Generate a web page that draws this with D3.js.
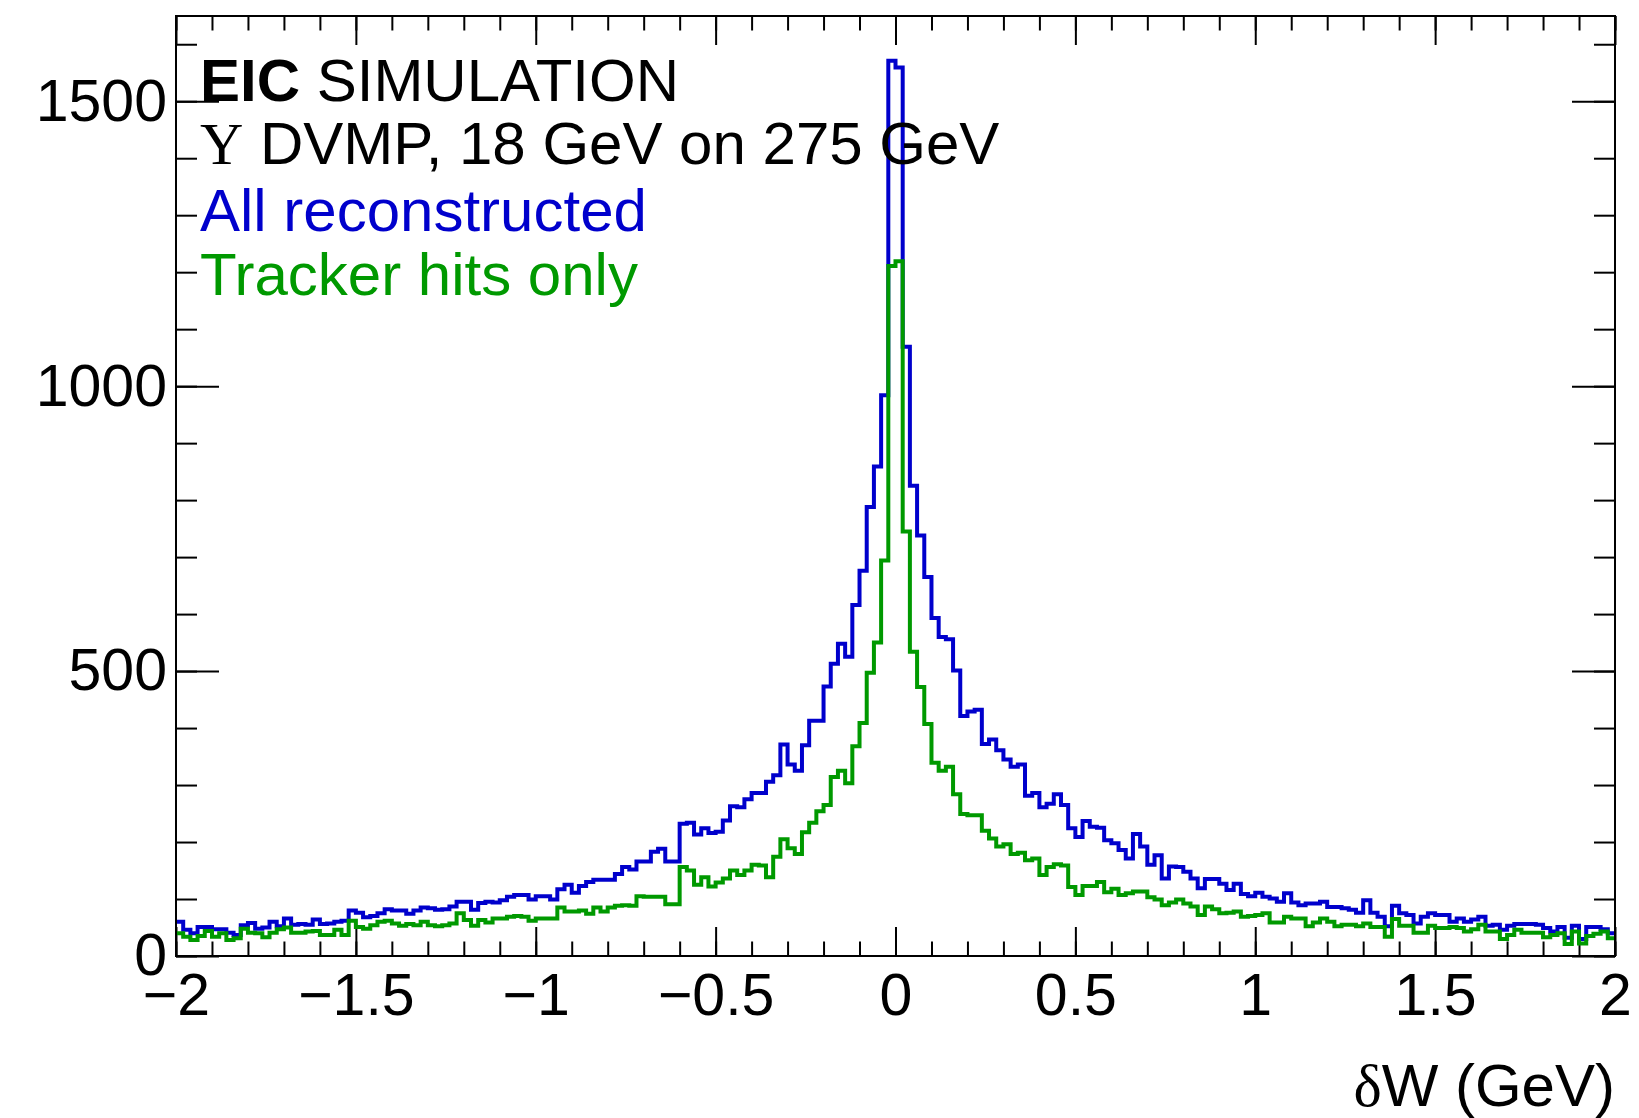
<!DOCTYPE html>
<html>
<head>
<meta charset="utf-8">
<script src="https://cdn.jsdelivr.net/npm/d3@7/dist/d3.min.js"></script>
<style>
body { margin: 0; background: #fff; }
text { font-family: "Liberation Sans", Arial, Helvetica, sans-serif; }
</style>
</head>
<body>
<div id="chart-area"></div>
<script>
/*
*    dW histogram, all reconstructed vs tracker hits only
*/

// binning: 200 bins from -2 to 2 GeV
var xLow = -2
var xHigh = 2
var nBins = 200

// bin contents, left to right
var allReco = [
  60,46,40,51,51,47,47,41,37,54, 58,48,50,60,52,66,55,56,55,64,
  56,57,60,62,80,76,68,70,75,82, 80,80,74,80,85,84,81,82,87,95,
  95,81,93,95,94,98,104,107,107,99, 105,105,99,117,125,111,123,130,134,134,
  134,144,156,152,166,166,183,188,166,166, 232,234,213,224,216,218,238,263,261,275,
  286,286,306,317,371,336,325,370,413,413, 473,513,548,525,616,676,788,859,984,1571,
  1559,1069,825,738,665,593,560,556,501,421, 429,432,372,380,361,345,332,336,281,286,
  261,267,284,265,224,209,237,227,225,203, 198,186,171,214,192,160,177,136,157,156,
  148,136,119,135,135,127,116,127,109,105, 111,104,101,95,110,94,89,92,92,95,
  86,86,84,81,76,98,76,69,52,88, 75,72,57,69,75,72,72,60,66,60,
  64,69,53,55,46,53,56,56,56,55, 49,43,51,32,53,30,51,51,47,40
]

var trackerOnly = [
  40,34,28,35,44,34,40,28,31,48, 41,40,33,41,47,50,41,41,43,44,
  37,37,46,37,62,51,48,54,60,62, 57,53,56,54,60,54,52,54,57,75,
  63,53,63,59,66,66,69,70,69,62, 66,66,66,85,78,78,80,74,85,78,
  85,88,89,88,105,104,104,104,91,91, 156,150,125,138,122,129,136,150,142,150,
  160,159,138,174,205,189,179,217,234,254, 265,314,325,303,368,409,497,550,694,1211,
  1219,745,534,472,407,339,325,332,284,249, 247,247,220,206,192,196,179,181,168,171,
  142,156,161,159,121,107,123,123,130,112, 118,107,110,113,113,103,99,89,94,99,
  92,87,72,87,82,75,76,78,69,70, 72,75,59,59,69,66,66,52,59,66,
  60,52,55,55,52,57,51,51,34,65, 53,53,41,41,53,49,49,51,49,43,
  47,55,43,43,30,37,46,41,41,41, 33,37,40,21,43,22,35,39,43,31
]

var xTickValues = [-2, -1.5, -1, -0.5, 0, 0.5, 1, 1.5, 2]
var xTickLabels = ["\u22122", "\u22121.5", "\u22121", "\u22120.5", "0", "0.5", "1", "1.5", "2"]
var yTickValues = [0, 500, 1000, 1500]
var yTickLabels = ["0", "500", "1000", "1500"]

var textLines = ["SIMULATION", "DVMP, 18 GeV on 275 GeV", "All reconstructed", "Tracker hits only"]

var blue = "#0000cc"
var green = "#009900"

var W = 1639
var H = 1118
var margin = {top: 16, right: 24, bottom: 162, left: 176}
var width = W - margin.left - margin.right
var height = H - margin.top - margin.bottom

var svg = d3.select("#chart-area").append("svg")
.attr("width", W)
.attr("height", H)

var g = svg.append("g")
.attr("transform", "translate(" + margin.left + ", " + margin.top + ")")

var x = d3.scaleLinear()
.domain([xLow, xHigh])
.range([0, width])

var y = d3.scaleLinear()
.domain([0, d3.max(allReco) * 1.05])
.range([height, 0])

var xMinor = d3.range(-20, 21).map(d => d / 10)
var yMinor = d3.range(0, 17).map(d => d * 100)

// ticks point inwards, ROOT style
g.append("g")
.attr("class", "x axis")
.attr("transform", "translate(0, " + height + ")")
.call(d3.axisBottom(x).tickValues(xMinor).tickSize(-14.5).tickFormat(""))

g.append("g")
.attr("class", "x axis")
.attr("transform", "translate(0, " + height + ")")
.call(d3.axisBottom(x).tickValues(xTickValues).tickSize(-29).tickPadding(17)
  .tickFormat((d, i) => xTickLabels[i]))

g.append("g")
.attr("class", "x axis")
.call(d3.axisTop(x).tickValues(xMinor).tickSize(-14.5).tickFormat(""))

g.append("g")
.attr("class", "x axis")
.call(d3.axisTop(x).tickValues(xTickValues).tickSize(-29).tickFormat(""))

g.append("g")
.attr("class", "y axis")
.call(d3.axisLeft(y).tickValues(yMinor).tickSize(-21).tickFormat(""))

g.append("g")
.attr("class", "y axis")
.call(d3.axisLeft(y).tickValues(yTickValues).tickSize(-43).tickPadding(9)
  .tickFormat((d, i) => yTickLabels[i]))

g.append("g")
.attr("class", "y axis")
.attr("transform", "translate(" + width + ", 0)")
.call(d3.axisRight(y).tickValues(yMinor).tickSize(-21).tickFormat(""))

g.append("g")
.attr("class", "y axis")
.attr("transform", "translate(" + width + ", 0)")
.call(d3.axisRight(y).tickValues(yTickValues).tickSize(-43).tickFormat(""))

g.selectAll(".axis .domain").remove()
g.selectAll(".axis line").attr("stroke", "#000").attr("stroke-width", 2)
g.selectAll(".axis text")
.attr("font-size", "59px")
.attr("font-family", "'Liberation Sans', Arial, Helvetica, sans-serif")
.attr("fill", "#000")

// histograms as step lines
var edges = d3.range(nBins + 1).map(i => xLow + i * (xHigh - xLow) / nBins)

var line = d3.line()
.x(d => x(d[0]))
.y(d => y(d[1]))
.curve(d3.curveStepAfter)

const steps = (values) => values.map((v, i) => [edges[i], v]).concat([[xHigh, values[nBins - 1]]])

g.append("path")
.attr("d", line(steps(allReco)))
.attr("fill", "none")
.attr("stroke", blue)
.attr("stroke-width", 4)

g.append("path")
.attr("d", line(steps(trackerOnly)))
.attr("fill", "none")
.attr("stroke", green)
.attr("stroke-width", 4)

// frame
g.append("rect")
.attr("width", width)
.attr("height", height)
.attr("fill", "none")
.attr("stroke", "#000")
.attr("stroke-width", 2)

// labels
var t1 = svg.append("text")
.attr("x", 200)
.attr("y", 101)
.attr("font-size", "60px")
t1.append("tspan").attr("font-weight", "bold").text("EIC")
t1.append("tspan").text(" " + textLines[0])

var t2 = svg.append("text")
.attr("x", 200)
.attr("y", 164)
.attr("font-size", "60px")
t2.append("tspan").attr("font-family", "'Liberation Serif', 'Times New Roman', serif").text("\u03A5")
t2.append("tspan").text(" " + textLines[1])

svg.append("text")
.attr("x", 200)
.attr("y", 231)
.attr("font-size", "60px")
.attr("fill", blue)
.text(textLines[2])

svg.append("text")
.attr("x", 200)
.attr("y", 295)
.attr("font-size", "60px")
.attr("fill", green)
.text(textLines[3])

// X Label
var xl = svg.append("text")
.attr("x", margin.left + width)
.attr("y", 1106)
.attr("font-size", "60px")
.attr("text-anchor", "end")
xl.append("tspan").attr("font-family", "'Liberation Serif', 'Times New Roman', serif").text("\u03B4")
xl.append("tspan").text("W (GeV)")
</script>
</body>
</html>
